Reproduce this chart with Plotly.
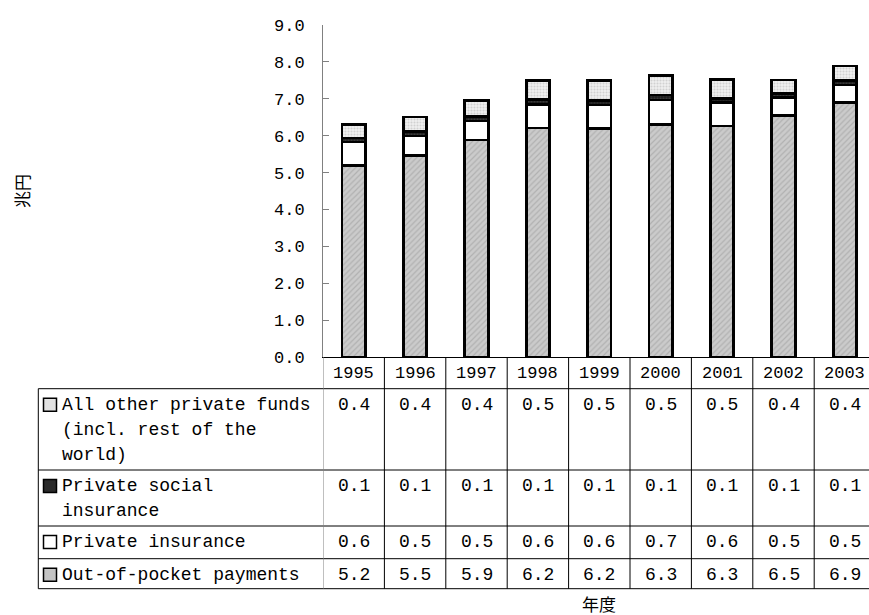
import plotly.graph_objects as go

years = ["1995", "1996", "1997", "1998", "1999", "2000", "2001", "2002", "2003"]
out_of_pocket = [5.20, 5.47, 5.88, 6.21, 6.20, 6.31, 6.26, 6.54, 6.90]
private_insurance = [0.63, 0.52, 0.52, 0.64, 0.63, 0.66, 0.63, 0.49, 0.47]
private_social = [0.11, 0.12, 0.12, 0.13, 0.13, 0.13, 0.12, 0.12, 0.12]
other_private = [0.37, 0.40, 0.43, 0.52, 0.54, 0.54, 0.52, 0.36, 0.40]

y_ticks = [0, 1, 2, 3, 4, 5, 6, 7, 8, 9]

# table rows, top to bottom
row_labels = [
    ["All other private funds", "(incl. rest of the", "world)"],
    ["Private social", "insurance"],
    ["Private insurance"],
    ["Out-of-pocket payments"],
]
row_values = [other_private, private_social, private_insurance, out_of_pocket]
row_key_colors = ["#e2e2e2", "#2a2a2a", "#ffffff", "#c4c4c4"]

MONO = "Liberation Mono, DejaVu Sans Mono, Noto Sans CJK JP, monospace"
CJK = "Noto Sans CJK JP, Noto Sans CJK SC, sans-serif"

W, H = 869, 615
# plot area in pixels
PLOT_L, PLOT_T, PLOT_B = 323, 25, 357
PLOT_W = W - PLOT_L
PLOT_H = PLOT_B - PLOT_T
COL_W = 61.4


def px_x(x):
    return (x - PLOT_L) / PLOT_W


def px_y(y):
    return (PLOT_B - y) / PLOT_H


fig = go.Figure()

stack = [
    (out_of_pocket, "Out-of-pocket payments",
     dict(shape="/", bgcolor="#cbcbcb", fgcolor="#979797", size=4, solidity=0.3)),
    (private_insurance, "Private insurance", None),
    (private_social, "Private social insurance",
     dict(shape=".", bgcolor="#1c1c1c", fgcolor="#555555", size=3, solidity=0.4)),
    (other_private, "All other private funds (incl. rest of the world)",
     dict(shape=".", bgcolor="#eeeeee", fgcolor="#b4b4b4", size=3, solidity=0.35)),
]
for values, name, pattern in stack:
    marker = {"color": "#ffffff", "line": {"color": "#000000", "width": 2.7}}
    if pattern:
        marker["pattern"] = pattern
        marker["color"] = pattern["bgcolor"]
    fig.add_trace(go.Bar(x=years, y=values, name=name, width=0.38, marker=marker))

shapes = []
annotations = []

row_tops = [388.7, 470, 526, 558.7]
table_bottom = 588.7
table_left = 38.3
line_h = 25

# horizontal table lines
for y in row_tops + [table_bottom]:
    shapes.append(dict(type="line", xref="paper", yref="paper",
                       x0=px_x(table_left), x1=1, y0=px_y(y), y1=px_y(y),
                       line=dict(color="#000000", width=1)))
# left border of the label column
shapes.append(dict(type="line", xref="paper", yref="paper",
                   x0=px_x(table_left), x1=px_x(table_left),
                   y0=px_y(row_tops[0]), y1=px_y(table_bottom),
                   line=dict(color="#000000", width=1)))
# column borders
for i in range(len(years)):
    shapes.append(dict(type="line", xref="x", yref="paper",
                       x0=i - 0.5, x1=i - 0.5, y0=0, y1=px_y(table_bottom),
                       line=dict(color="#808080" if i == 0 else "#000000", width=1)))

# header row with years
for i, yr in enumerate(years):
    annotations.append(dict(x=i, xref="x", y=px_y(373), yref="paper",
                            text=yr, showarrow=False, xanchor="center", yanchor="middle",
                            font=dict(family=MONO, size=17, color="#000000")))

for r, (labels, values, key) in enumerate(zip(row_labels, row_values, row_key_colors)):
    first = row_tops[r] + 16
    for k, line in enumerate(labels):
        annotations.append(dict(x=px_x(60), xref="paper", y=px_y(first + k * line_h), yref="paper",
                                text=line, showarrow=False, xanchor="left", yanchor="middle",
                                font=dict(family=MONO, size=18, color="#000000")))
    shapes.append(dict(type="rect", xref="paper", yref="paper",
                       x0=px_x(43.5), x1=px_x(56.5), y0=px_y(first - 6.5), y1=px_y(first + 6.5),
                       fillcolor=key, line=dict(color="#000000", width=1.5)))
    for i, v in enumerate(values):
        annotations.append(dict(x=i, xref="x", y=px_y(first), yref="paper",
                                text=f"{v:.1f}", showarrow=False, xanchor="center", yanchor="middle",
                                font=dict(family=MONO, size=18, color="#000000")))

# axis titles
annotations.append(dict(x=px_x(21), xref="paper", y=0.5, yref="paper", text="兆円",
                        textangle=-90, showarrow=False, xanchor="center", yanchor="middle",
                        font=dict(family=CJK, size=17, color="#000000")))
annotations.append(dict(x=(len(years) - 1) / 2, xref="x", y=px_y(603), yref="paper", text="年度",
                        showarrow=False, xanchor="center", yanchor="middle",
                        font=dict(family=CJK, size=17, color="#000000")))

fig.update_layout(
    width=W,
    height=H,
    margin=dict(l=PLOT_L, r=0, t=PLOT_T, b=H - PLOT_B, pad=0),
    barmode="stack",
    showlegend=False,
    plot_bgcolor="#ffffff",
    paper_bgcolor="#ffffff",
    shapes=shapes,
    annotations=annotations,
    font=dict(family=MONO, color="#000000"),
)
fig.update_xaxes(
    type="category",
    range=[-0.5, -0.5 + PLOT_W / COL_W],
    showticklabels=False,
    ticks="",
    showgrid=False,
    showline=True,
    linecolor="#000000",
    linewidth=1,
    fixedrange=True,
)
fig.update_yaxes(
    range=[0, 9],
    tickvals=y_ticks,
    tickformat=".1f",
    ticks="inside",
    ticklen=6,
    tickcolor="#808080",
    ticklabelstandoff=14,
    tickfont=dict(family=MONO, size=17, color="#000000"),
    showgrid=False,
    zeroline=False,
    showline=True,
    linecolor="#808080",
    linewidth=1,
    fixedrange=True,
)

# figure fills the whole window: drop the page margin and scrollbars
fig.write_html(
    "out.html",
    config={"displayModeBar": False},
    post_script="document.body.style.margin='0';document.body.style.overflow='hidden';",
)
